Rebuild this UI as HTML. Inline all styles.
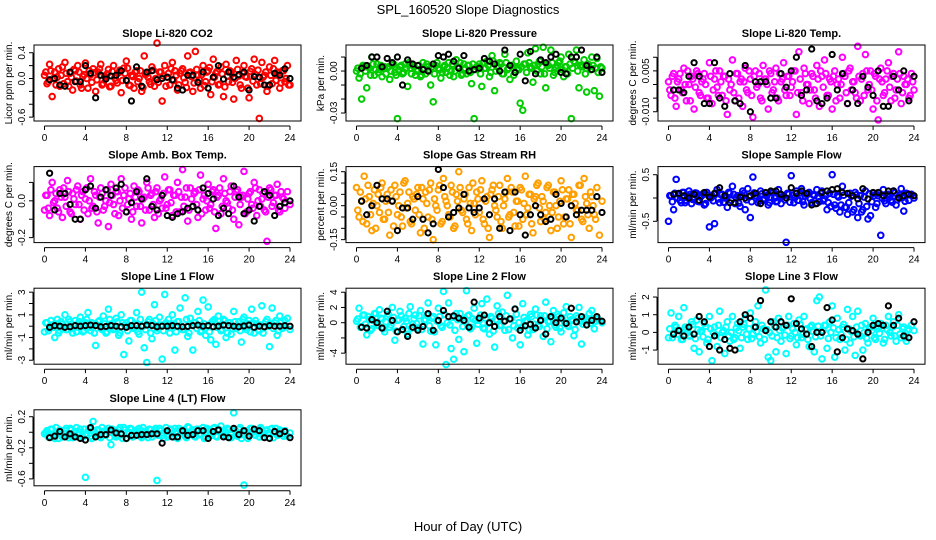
<!DOCTYPE html>
<html><head><meta charset="utf-8">
<style>
html,body{margin:0;padding:0;background:#fff;}
svg{display:block;font-family:"Liberation Sans",sans-serif;}
</style></head>
<body>
<svg id="chart" width="936" height="540" viewBox="0 0 936 540" xmlns="http://www.w3.org/2000/svg">
<text x="468" y="14" text-anchor="middle" font-size="13">SPL_160520  Slope Diagnostics</text>
<text x="468" y="531" text-anchor="middle" font-size="13">Hour of Day (UTC)</text>
</svg>
<script>
const hours = [0,0.25,0.5,0.75,1,1.25,1.5,1.75,2,2.25,2.5,2.75,3,3.25,3.5,3.75,4,4.25,4.5,4.75,5,5.25,5.5,5.75,6,6.25,6.5,6.75,7,7.25,7.5,7.75,8,8.25,8.5,8.75,9,9.25,9.5,9.75,10,10.25,10.5,10.75,11,11.25,11.5,11.75,12,12.25,12.5,12.75,13,13.25,13.5,13.75,14,14.25,14.5,14.75,15,15.25,15.5,15.75,16,16.25,16.5,16.75,17,17.25,17.5,17.75,18,18.25,18.5,18.75,19,19.25,19.5,19.75,20,20.25,20.5,20.75,21,21.25,21.5,21.75,22,22.25,22.5,22.75,23,23.25,23.5,23.75,24];
const hoursB = [0.125,0.375,0.625,0.875,1.125,1.375,1.625,1.875,2.125,2.375,2.625,2.875,3.125,3.375,3.625,3.875,4.125,4.375,4.625,4.875,5.125,5.375,5.625,5.875,6.125,6.375,6.625,6.875,7.125,7.375,7.625,7.875,8.125,8.375,8.625,8.875,9.125,9.375,9.625,9.875,10.125,10.375,10.625,10.875,11.125,11.375,11.625,11.875,12.125,12.375,12.625,12.875,13.125,13.375,13.625,13.875,14.125,14.375,14.625,14.875,15.125,15.375,15.625,15.875,16.125,16.375,16.625,16.875,17.125,17.375,17.625,17.875,18.125,18.375,18.625,18.875,19.125,19.375,19.625,19.875,20.125,20.375,20.625,20.875,21.125,21.375,21.625,21.875,22.125,22.375,22.625,22.875,23.125,23.375,23.625,23.875];
const blackHours = [0.5,1,1.5,2,2.5,3,3.5,4,4.5,5,5.5,6,6.5,7,7.5,8,8.5,9,9.5,10,10.5,11,11.5,12,12.5,13,13.5,14,14.5,15,15.5,16,16.5,17,17.5,18,18.5,19,19.5,20,20.5,21,21.5,22,22.5,23,23.5,24];
const xTicks = [0,4,8,12,16,20,24];

const co2Vals = [0.05,-0.08,0.22,-0.28,0.1,0.02,-0.12,0.18,0.25,-0.05,0.08,-0.18,0.12,0.2,-0.1,0.03,0.24,-0.15,0.06,0.15,-0.2,0.1,0.22,-0.08,0.02,0.14,-0.12,0.2,-0.03,0.09,-0.22,0.16,0.27,-0.1,0.05,-0.15,0.12,0.0,-0.2,0.35,0.08,-0.05,0.18,-0.12,0.55,0.1,-0.35,0.2,0.02,-0.1,0.25,0.12,-0.18,0.08,0.15,-0.06,0.35,0.1,-0.2,0.42,0.05,-0.15,0.2,-0.05,0.12,-0.25,0.3,0.08,-0.1,0.18,-0.28,0.22,-0.05,0.1,-0.32,0.28,0.04,-0.15,0.2,0.02,-0.3,0.15,0.3,-0.1,-0.62,0.25,0.05,-0.2,0.18,-0.08,0.28,0.1,-0.15,0.12,-0.05,0.2,-0.1];
const co2ValsB = [0.1,-0.05,0.12,0.0,-0.1,0.15,0.05,-0.08,0.08,-0.12,0.02,0.14,-0.04,0.1,-0.15,0.06,0.0,0.12,-0.06,0.09,-0.02,0.15,-0.1,0.04,0.07,-0.13,0.11,0.01,-0.07,0.13,-0.03,0.08,0.16,-0.11,0.03,0.1,-0.05,0.12,-0.14,0.06,0.02,-0.09,0.13,0.0,-0.06,0.1,0.04,-0.12,0.08,0.15,-0.03,0.05,-0.1,0.12,0.01,-0.14,0.09,0.03,-0.07,0.14,-0.02,0.06,-0.11,0.1,0.17,-0.05,0.02,0.11,-0.09,0.07,-0.13,0.04,0.12,-0.06,0.0,0.14,-0.1,0.08,0.03,-0.15,0.11,-0.04,0.06,0.13,-0.08,0.02,0.1,-0.12,0.05,0.15,-0.03,0.08,-0.07,0.12,0.0,-0.1];
const co2Black = [-0.02,0.0,-0.1,-0.12,0.1,-0.05,-0.05,0.2,0.08,-0.3,0.05,-0.01,0.04,0.05,0.12,-0.03,-0.35,0.18,-0.12,0.1,0.12,-0.02,0.0,0.02,-0.02,-0.15,-0.18,0.05,0.05,-0.06,0.1,-0.15,0.02,0.2,-0.01,0.1,0.02,0.06,0.1,-0.18,0.03,0.02,-0.1,-0.1,0.08,0.05,0.15,0.0];

const presVals = [0.0,-0.005,-0.02,0.003,-0.012,0.002,0.01,-0.003,0.005,0.001,-0.004,0.003,0.002,-0.006,0.004,-0.001,-0.034,0.003,-0.002,0.005,-0.011,0.002,0.004,-0.003,0.001,-0.004,0.006,-0.002,0.003,-0.01,-0.022,0.004,0.002,-0.005,0.003,-0.001,0.006,0.0,-0.004,0.008,0.002,-0.003,0.005,-0.002,0.004,-0.009,-0.034,0.003,0.005,-0.011,0.002,0.007,-0.004,0.011,-0.014,0.003,0.006,-0.002,0.012,0.001,-0.006,0.004,-0.001,0.002,-0.023,-0.028,0.005,0.013,0.003,-0.008,0.016,0.005,-0.002,0.017,-0.012,0.004,0.015,-0.003,0.002,0.006,0.01,-0.004,0.003,0.012,-0.034,0.007,0.015,-0.012,0.004,0.008,-0.015,0.003,0.01,-0.014,0.009,-0.018,0.002];
const presValsB = [0.002,-0.002,0.004,0.0,0.003,-0.003,0.005,0.001,-0.001,0.004,0.002,-0.002,0.003,0.0,0.005,-0.003,0.001,0.004,-0.001,0.002,0.006,-0.002,0.003,0.0,0.004,-0.003,0.002,0.005,0.0,0.003,-0.002,0.006,0.001,-0.001,0.004,0.002,-0.003,0.005,0.0,0.003,0.006,-0.002,0.002,0.004,-0.001,0.005,0.001,0.003,-0.002,0.006,0.002,0.004,-0.001,0.007,0.0,0.003,0.005,-0.002,0.006,0.002,0.004,-0.003,0.007,0.001,0.003,0.005,-0.001,0.006,0.002,0.004,0.0,0.007,0.003,-0.002,0.005,0.002,0.006,-0.001,0.004,0.007,0.001,0.003,-0.002,0.005,0.002,0.006,0.0,0.004,0.003,-0.002,0.005,0.001,0.004,0.002,-0.001,0.003];
const presBlack = [0.002,0.004,0.01,0.01,0.003,0.009,0.006,0.01,-0.01,0.008,0.005,0.004,0.001,0.0,0.005,0.011,0.01,0.012,0.007,0.002,0.011,0.0,0.001,0.002,0.009,0.007,0.005,0.0,0.015,0.004,-0.001,0.012,-0.007,0.014,-0.002,0.008,0.006,0.01,0.012,-0.001,-0.002,0.01,0.01,0.015,0.004,0.001,0.01,-0.001];

const tempVals = [0.001,-0.004,0.004,-0.008,0.002,-0.002,0.006,-0.006,0.0,0.003,-0.009,0.005,-0.003,0.001,0.004,-0.005,0.008,-0.007,0.002,-0.001,0.005,-0.004,0.003,-0.011,-0.002,0.009,-0.006,0.004,0.001,-0.008,0.006,-0.003,0.002,-0.012,0.005,0.0,-0.005,0.007,0.002,-0.009,0.004,-0.002,0.006,-0.006,0.001,0.008,-0.004,0.003,-0.001,0.005,-0.011,0.012,-0.003,0.006,0.0,-0.007,0.004,-0.002,0.007,-0.008,0.003,0.009,-0.004,0.002,-0.009,0.005,0.0,-0.005,0.010,0.003,-0.007,0.006,0.001,-0.003,0.014,-0.006,0.004,0.011,-0.002,0.005,-0.009,0.003,-0.013,0.006,-0.004,0.002,0.008,-0.006,0.004,-0.002,0.012,-0.007,0.003,0.0,-0.005,0.004,-0.002];
const tempValsB = [-0.002,0.003,-0.005,0.001,0.004,-0.003,0.0,0.005,-0.006,0.002,-0.001,0.004,-0.004,0.002,0.0,-0.005,0.003,-0.002,0.005,-0.004,0.001,0.003,-0.006,0.002,0.0,-0.003,0.004,-0.005,0.002,0.001,-0.002,0.005,-0.004,0.003,-0.001,0.004,-0.006,0.002,0.0,0.005,-0.003,0.001,-0.005,0.004,0.002,-0.002,0.003,-0.004,0.001,0.005,-0.003,0.002,-0.006,0.004,0.0,-0.002,0.003,-0.005,0.002,0.005,-0.001,0.004,-0.004,0.001,0.003,-0.006,0.002,0.0,0.004,-0.003,0.005,-0.002,0.001,-0.005,0.003,0.002,-0.004,0.005,0.0,-0.002,0.004,-0.006,0.002,0.001,-0.003,0.005,-0.001,0.003,-0.005,0.002,0.004,-0.003,0.0,0.002,-0.004,0.001];
const tempBlack = [-0.002,-0.002,-0.003,0.003,0.008,0.003,-0.007,-0.007,0.008,-0.005,-0.008,0.004,-0.006,-0.007,0.007,-0.01,0.001,0.001,0.001,-0.005,-0.005,0.004,-0.001,0.005,0.01,-0.004,-0.002,0.013,-0.006,-0.007,-0.005,0.011,-0.002,0.004,-0.007,-0.002,-0.007,0.003,-0.001,-0.004,0.005,-0.008,-0.008,0.003,-0.002,0.005,-0.006,0.003];

const ambVals = [-0.05,0.03,-0.08,0.1,0.0,-0.04,0.06,-0.09,0.02,0.11,-0.06,0.04,-0.02,0.08,-0.1,0.05,0.01,-0.07,0.12,-0.03,0.03,-0.12,0.07,-0.05,0.0,-0.14,0.09,-0.02,0.05,-0.08,0.12,0.03,-0.06,0.01,-0.1,0.08,-0.03,0.05,-0.12,0.02,0.1,-0.05,0.04,-0.09,0.07,0.0,-0.04,0.13,-0.02,0.06,-0.08,0.03,0.1,-0.06,0.17,0.02,-0.11,0.07,-0.03,0.05,-0.09,0.14,0.01,-0.05,0.09,-0.02,0.06,-0.15,0.03,-0.07,0.12,0.0,-0.04,0.08,-0.1,0.05,-0.13,0.02,0.16,-0.06,0.04,-0.02,0.1,-0.08,0.06,0.01,-0.05,-0.22,0.07,-0.03,0.03,0.09,-0.06,0.02,-0.04,0.05,-0.02];
const ambValsB = [0.03,-0.04,0.06,-0.01,0.04,-0.06,0.02,0.07,-0.03,0.05,-0.07,0.01,0.06,-0.02,0.03,-0.05,0.07,0.0,-0.04,0.05,-0.06,0.02,0.04,-0.03,0.06,-0.01,0.03,-0.07,0.05,0.0,-0.04,0.07,-0.02,0.04,-0.06,0.02,0.06,-0.03,0.01,-0.05,0.07,0.03,-0.02,0.05,-0.07,0.01,0.04,-0.04,0.06,-0.01,0.03,-0.06,0.05,0.02,-0.03,0.07,-0.05,0.01,0.04,-0.02,0.06,-0.07,0.03,0.0,-0.04,0.05,-0.06,0.02,0.07,-0.03,0.04,-0.01,0.05,-0.05,0.02,0.06,-0.02,0.03,-0.07,0.01,0.05,-0.04,0.07,0.0,-0.03,0.04,-0.06,0.02,0.06,-0.01,0.03,-0.05,0.05,0.01];
const ambBlack = [0.15,-0.05,0.04,0.04,-0.02,-0.1,-0.1,0.06,0.08,-0.04,0.02,0.06,0.03,0.07,0.09,-0.06,-0.01,0.05,0.01,0.12,-0.03,-0.05,0.03,-0.08,-0.09,-0.07,-0.06,-0.04,-0.03,-0.05,0.07,0.04,0.01,-0.08,-0.04,-0.07,0.08,0.02,-0.07,-0.05,-0.11,-0.03,0.05,0.03,-0.08,-0.03,-0.01,0.0];

const rhVals = [0.08,-0.05,0.02,0.13,-0.08,0.04,-0.11,0.07,0.0,-0.03,0.1,-0.06,0.05,-0.13,0.02,0.09,-0.04,0.06,-0.09,0.11,0.01,-0.07,0.04,-0.02,0.08,-0.12,0.03,0.06,-0.05,0.1,-0.15,0.0,0.07,-0.08,0.12,0.02,-0.04,0.09,-0.1,0.05,0.15,-0.02,0.03,-0.06,0.08,-0.11,0.01,0.06,-0.03,0.11,-0.08,0.04,-0.14,0.07,0.0,-0.05,0.09,-0.1,0.03,0.12,-0.04,0.06,-0.09,0.02,0.08,-0.06,0.13,-0.01,0.05,-0.12,0.04,0.1,-0.07,0.02,-0.03,0.09,-0.11,0.06,0.0,-0.05,0.11,-0.08,0.03,0.07,-0.14,0.05,-0.02,0.09,-0.06,0.12,0.01,-0.1,0.04,-0.04,0.08,-0.13,0.02];
const rhValsB = [-0.02,0.06,-0.07,0.03,0.09,-0.04,0.01,-0.1,0.05,0.08,-0.06,0.02,-0.03,0.07,-0.09,0.04,0.0,-0.05,0.1,-0.01,0.06,-0.08,0.03,0.05,-0.04,0.08,-0.1,0.01,0.07,-0.06,0.03,-0.02,0.09,-0.07,0.04,0.0,-0.05,0.06,-0.09,0.02,0.08,-0.03,0.05,-0.08,0.01,0.1,-0.04,0.03,0.07,-0.06,0.02,-0.1,0.05,0.09,-0.02,0.04,-0.07,0.0,0.06,-0.05,0.08,-0.03,0.02,-0.09,0.07,0.01,-0.04,0.05,-0.08,0.03,0.09,-0.01,0.04,-0.06,0.08,0.0,-0.03,0.06,-0.1,0.02,0.07,-0.05,0.03,-0.08,0.05,0.01,-0.02,0.09,-0.07,0.04,-0.04,0.06,0.0,-0.06];
const rhBlack = [0.02,-0.04,0.0,0.09,0.03,0.03,0.02,-0.11,-0.01,-0.01,-0.06,0.04,-0.06,-0.12,-0.08,0.16,0.08,-0.05,-0.03,-0.01,0.05,-0.01,-0.03,-0.01,0.03,-0.04,0.03,-0.1,0.06,-0.11,0.06,-0.04,-0.13,-0.04,0.0,-0.04,-0.07,-0.06,0.05,0.01,-0.05,0.0,-0.04,-0.02,-0.02,-0.02,0.04,-0.03];

const sampleVals = [-0.5,0.05,-0.25,0.4,0.08,-0.1,0.12,-0.05,0.15,-0.12,0.02,0.1,-0.08,0.05,-0.15,0.12,-0.62,0.05,-0.55,0.18,-0.1,0.08,0.0,-0.2,0.1,0.25,-0.12,0.05,-0.18,0.15,-0.25,0.2,-0.42,0.45,0.05,-0.1,0.15,-0.05,0.1,-0.15,0.02,0.12,-0.08,0.18,-0.12,0.05,-0.95,0.08,0.48,-0.1,0.15,-0.05,0.2,-0.15,0.08,0.12,-0.1,0.05,0.18,-0.08,0.15,-0.02,-0.25,0.1,0.5,-0.15,0.05,-0.3,0.25,-0.2,-0.35,0.1,-0.3,0.12,-0.42,0.05,-0.25,0.15,-0.45,-0.38,0.1,-0.2,0.05,-0.8,0.18,-0.12,0.08,-0.05,0.15,-0.15,0.02,0.2,-0.28,0.1,-0.05,0.08,0.0];
const sampleValsB = [0.05,-0.08,0.1,0.0,-0.05,0.12,-0.1,0.04,0.08,-0.03,0.11,-0.07,0.02,0.09,-0.12,0.06,0.0,-0.06,0.1,-0.02,0.07,-0.09,0.03,0.12,-0.05,0.08,0.01,-0.11,0.06,0.1,-0.04,0.02,-0.08,0.11,0.04,-0.06,0.09,-0.01,0.05,-0.1,0.12,0.0,-0.07,0.08,0.03,-0.04,0.1,-0.09,0.06,0.01,-0.05,0.11,-0.08,0.04,0.09,-0.02,0.07,-0.12,0.03,0.1,-0.06,0.05,-0.1,-0.18,0.08,-0.22,0.02,-0.15,0.06,-0.2,-0.1,0.04,-0.25,0.07,-0.12,-0.3,0.02,-0.18,0.09,-0.08,0.05,-0.12,0.1,0.0,-0.06,0.08,0.03,-0.09,0.11,-0.04,0.06,0.01,-0.07,0.09];
const sampleBlack = [0.08,0.1,0.05,0.0,0.08,-0.05,0.12,0.02,0.1,0.22,0.05,-0.1,-0.1,0.02,0.0,0.05,0.1,-0.12,0.12,0.15,0.15,0.08,0.0,0.22,0.1,0.15,0.1,-0.15,-0.12,0.12,0.15,0.18,0.2,0.12,0.1,0.05,-0.02,0.2,-0.02,0.12,0.12,0.05,0.15,0.15,0.0,0.05,0.08,0.05];

const line1Vals = [-0.5,0.3,-0.2,0.1,-1.0,0.6,-0.4,0.2,1.0,-0.3,0.4,-0.6,0.5,-0.1,0.8,-0.5,0.3,1.2,-0.4,0.1,-1.7,0.4,-0.2,0.9,-0.6,1.5,0.2,-0.3,0.7,-0.8,1.0,-2.5,0.3,-1.3,0.5,-0.2,1.2,-0.7,3.0,-1.9,-3.2,0.6,-1.1,1.9,-0.4,0.8,-2.9,2.8,0.2,-0.6,1.0,-2.1,0.4,1.6,-0.3,2.5,-0.9,0.7,-2.1,0.3,1.3,-0.5,2.3,-0.8,1.7,-1.2,0.5,-1.6,0.9,-0.4,0.6,-1.0,0.3,-0.7,1.3,-0.2,0.4,-1.4,0.8,-0.3,0.5,1.5,-0.6,0.2,-0.4,1.8,-0.1,0.6,-1.8,1.6,0.3,-0.8,0.9,-0.2,0.5,0.7,-0.3];
const line1ValsB = [0.3,-0.4,0.5,-0.1,0.2,-0.6,0.4,0.0,-0.3,0.6,-0.2,0.1,-0.5,0.4,0.2,-0.4,0.6,-0.1,0.3,-0.6,0.1,0.5,-0.3,0.2,-0.5,0.6,0.0,-0.2,0.4,-0.6,0.3,0.1,-0.4,0.5,-0.1,0.2,-0.5,0.6,0.0,-0.3,0.4,-0.6,0.2,0.5,-0.2,0.1,-0.4,0.3,0.6,-0.1,0.2,-0.5,0.4,0.0,-0.3,0.6,-0.6,0.1,0.3,-0.2,0.5,-0.4,0.2,0.0,-0.5,0.4,0.6,-0.1,0.1,-0.3,0.5,-0.6,0.3,-0.2,0.4,0.0,-0.4,0.6,-0.1,0.2,-0.5,0.3,0.5,-0.3,0.1,-0.6,0.4,0.0,0.2,-0.2,0.5,-0.4,0.3,-0.1];
const line1Black = [-0.1,0.05,0.0,-0.1,-0.05,0.05,0.0,0.05,0.1,0.05,-0.05,-0.02,0.05,0.0,-0.05,-0.1,0.05,0.05,0.0,0.1,0.05,-0.05,0.0,0.0,0.05,0.0,-0.05,-0.02,0.05,0.1,0.0,0.05,-0.05,0.0,0.1,0.05,0.0,-0.05,0.02,0.1,-0.1,0.0,-0.05,0.05,0.0,0.0,0.05,0.0];

const line2Vals = [0.2,1.9,-0.5,1.0,-1.6,0.4,-0.8,1.2,-0.3,1.7,0.5,-1.2,0.8,-0.6,2.0,-2.3,0.3,1.5,-0.9,0.6,-1.5,2.1,-0.2,1.0,-0.7,1.6,-2.8,0.4,2.6,-1.1,0.8,-2.9,1.9,-0.4,4.1,-5.5,2.6,-3.4,-4.8,1.2,-2.2,0.5,-3.8,4.2,1.0,-0.6,1.9,-2.7,0.3,2.5,-0.8,3.1,-1.5,0.6,-3.2,2.2,-0.4,1.4,-1.0,3.6,0.5,-2.0,1.8,-0.7,-2.9,2.5,0.2,-1.6,1.1,-0.9,1.8,-0.3,0.9,-1.8,2.7,0.1,-2.5,1.6,-0.6,0.8,-1.2,1.3,2.1,-0.5,0.4,-1.7,0.9,2.0,-2.8,0.6,-0.3,1.2,1.6,-0.8,0.5,0.3,0.0];
const line2ValsB = [0.5,-0.6,1.0,-0.2,0.8,-1.0,0.3,1.2,-0.4,0.6,-0.8,0.1,1.1,-0.3,0.7,-1.1,0.4,0.9,-0.5,0.2,1.2,-0.7,0.5,-0.1,0.9,-0.9,0.3,1.0,-0.4,0.6,-1.2,0.2,0.8,-0.6,1.1,0.0,-0.3,0.7,-1.0,0.4,1.2,-0.5,0.1,0.9,-0.8,0.5,0.3,-0.2,1.0,-0.7,0.6,-0.1,0.8,-1.1,0.4,1.2,-0.3,0.2,0.9,-0.9,0.5,-0.4,1.1,0.0,-0.6,0.7,0.3,-1.0,0.8,-0.2,1.0,-0.5,0.4,0.9,-0.8,0.2,0.6,-0.3,1.1,-0.7,0.5,0.0,-0.4,0.8,0.3,-0.9,0.6,0.1,-0.2,0.7,0.4,-0.1,0.5,0.2];
const line2Black = [-0.6,-0.7,0.4,0.0,-0.7,1.5,0.3,-1.2,-0.9,-1.8,-0.6,-1.0,-0.5,1.2,-1.0,0.3,1.6,0.8,0.9,0.6,0.3,-0.6,2.7,0.6,1.0,0.0,-0.5,0.8,0.2,0.5,1.8,-1.0,-0.4,-0.2,-0.7,0.3,-1.5,0.8,0.0,0.6,-0.1,1.9,0.1,0.8,-0.3,0.3,0.8,0.2];

const line3Vals = [-0.3,1.1,-0.1,0.3,0.9,-0.4,1.4,0.2,-0.2,0.6,-0.9,0.7,-1.1,0.1,0.5,-0.6,0.9,-1.6,0.3,-0.8,1.2,0.0,-1.2,0.6,-0.5,0.9,-0.3,0.5,-0.9,0.3,0.8,-0.4,1.1,-0.1,0.6,1.5,-0.6,0.2,2.4,-1.4,-1.6,0.6,-1.1,0.8,-0.5,0.3,-1.2,0.9,-0.2,0.5,-0.7,0.7,-0.3,0.9,0.2,-0.8,0.4,-1.1,1.8,2.0,-1.5,0.4,-0.9,0.6,1.5,-1.4,0.8,-0.4,0.3,-1.0,1.3,-0.6,0.9,-1.3,1.2,-0.2,-1.0,0.5,-0.6,0.3,0.8,-0.4,0.2,0.5,-0.6,0.4,0.9,-0.2,0.6,-0.5,1.0,-0.3,0.3,-0.5,0.2,0.4,0.1];
const line3ValsB = [0.2,-0.3,0.4,-0.1,0.1,-0.4,0.3,0.0,-0.2,0.45,-0.35,0.15,0.05,-0.25,0.35,-0.4,0.2,0.0,-0.15,0.4,-0.3,0.1,0.3,-0.2,0.0,-0.4,0.25,0.1,-0.3,0.45,-0.1,0.2,-0.35,0.3,0.05,-0.25,0.4,-0.4,0.15,0.0,-0.2,0.35,-0.3,0.1,0.25,-0.15,0.4,-0.35,0.2,0.0,-0.3,0.45,-0.1,0.15,-0.4,0.3,0.05,-0.25,0.35,-0.2,0.1,0.4,-0.35,0.0,0.25,-0.3,0.15,-0.1,0.45,-0.4,0.2,0.05,-0.25,0.3,-0.15,0.4,0.0,-0.35,0.2,0.1,-0.3,0.35,-0.05,0.25,-0.4,0.15,0.0,0.3,-0.2,0.4,-0.1,0.2,-0.3,0.1];
const line3Black = [-0.1,0.1,-0.2,0.3,-0.1,0.9,0.6,-0.8,-0.2,-1.0,-0.4,-0.9,-1.0,0.6,1.0,0.8,0.3,1.8,0.1,0.6,0.3,0.6,0.4,1.9,0.5,0.2,-0.1,-0.8,0.0,0.0,1.4,0.7,-1.1,-0.3,0.2,0.1,-0.1,-1.5,0.0,0.4,0.5,0.4,1.5,0.4,0.8,-0.2,-0.3,0.6];

const line4Vals = [-0.02,0.02,-0.05,0.04,-0.08,0.0,0.03,-0.06,0.02,-0.04,0.05,-0.07,0.01,-0.03,0.04,-0.06,-0.58,0.02,-0.05,0.14,-0.02,0.03,-0.07,0.01,-0.04,0.05,-0.16,0.02,-0.06,0.03,-0.03,0.06,-0.08,0.0,0.04,-0.05,0.02,0.05,-0.07,0.01,-0.03,0.04,-0.06,0.02,-0.62,0.05,-0.04,0.01,-0.06,0.03,-0.02,0.05,-0.08,0.02,0.0,-0.05,0.07,-0.03,0.03,-0.06,0.04,-0.02,0.06,-0.07,0.03,-0.01,0.05,-0.05,0.02,0.08,-0.04,0.0,0.03,-0.07,0.25,-0.02,0.04,-0.08,-0.68,0.02,-0.05,0.05,-0.03,0.01,-0.06,0.04,-0.02,0.03,-0.07,0.05,0.0,-0.04,0.03,-0.02,0.02,-0.05,-0.01];
const line4ValsB = [0.0,-0.06,0.04,-0.03,0.06,-0.08,0.02,-0.01,0.05,-0.07,0.03,-0.04,0.06,0.0,-0.06,0.04,-0.02,0.05,-0.08,0.01,0.03,-0.05,0.06,-0.03,0.02,-0.07,0.04,0.0,-0.04,0.06,-0.08,0.03,-0.02,0.05,-0.06,0.01,0.04,-0.05,0.06,-0.01,-0.07,0.03,0.0,0.05,-0.04,0.02,-0.08,0.06,-0.03,0.04,-0.06,0.01,0.05,-0.02,0.03,-0.07,0.06,0.0,-0.05,0.04,-0.03,0.02,-0.08,0.05,0.01,-0.04,0.06,-0.06,0.03,0.0,-0.02,0.05,-0.07,0.04,0.02,-0.05,0.06,-0.03,0.01,-0.08,0.05,0.0,-0.04,0.03,0.06,-0.06,0.02,-0.01,0.04,-0.07,0.05,-0.03,0.01,-0.05];
const line4Black = [-0.07,-0.05,0.01,-0.06,-0.02,-0.06,-0.08,-0.1,0.06,-0.06,-0.03,-0.03,0.03,-0.01,-0.02,-0.08,-0.04,-0.04,-0.03,-0.03,-0.02,-0.02,-0.14,0.02,-0.06,-0.06,0.02,-0.04,-0.03,0.02,0.02,-0.08,0.01,0.03,-0.06,-0.07,0.05,-0.03,0.02,-0.05,0.04,0.02,-0.07,-0.08,0.01,-0.02,0.01,-0.07];

const panels = [
 {name:'co2',title:'Slope Li-820 CO2',ylab:'Licor ppm per min.',color:'#ff0000',col:0,row:0,ylim:[-0.66,0.52],ticks:[0.4,0.2,0,-0.2,-0.4,-0.6],labels:['0.4','','0.0','','','-0.6'],vals:co2Vals,valsB:co2ValsB,black:co2Black},
 {name:'pressure',title:'Slope Li-820 Pressure',ylab:'kPa per min.',color:'#00cc00',col:1,row:0,ylim:[-0.0357,0.0186],ticks:[0.01,0,-0.01,-0.02,-0.03],labels:['','0.00','','','-0.03'],vals:presVals,valsB:presValsB,black:presBlack},
 {name:'temp',title:'Slope Li-820 Temp.',ylab:'degrees C per min.',color:'#ff00ff',col:2,row:0,ylim:[-0.0134,0.0145],ticks:[0.01,0.005,0,-0.005,-0.01],labels:['','0.005','','','-0.010'],vals:tempVals,valsB:tempValsB,black:tempBlack},
 {name:'amb-box-temp',title:'Slope Amb. Box Temp.',ylab:'degrees C per min.',color:'#ff00ff',col:0,row:1,ylim:[-0.227,0.186],ticks:[0.1,0,-0.1,-0.2],labels:['','0.0','','-0.2'],vals:ambVals,valsB:ambValsB,black:ambBlack},
 {name:'rh',title:'Slope Gas Stream RH',ylab:'percent per min.',color:'#ff9f00',col:1,row:1,ylim:[-0.163,0.1725],ticks:[0.15,0.1,0.05,0,-0.05,-0.1,-0.15],labels:['0.15','','','0.00','','','-0.15'],vals:rhVals,valsB:rhValsB,black:rhBlack},
 {name:'sample-flow',title:'Slope Sample Flow',ylab:'ml/min per min.',color:'#0000ff',col:2,row:1,ylim:[-0.957,0.674],ticks:[0.5,0,-0.5],labels:['0.5','','-0.5'],vals:sampleVals,valsB:sampleValsB,black:sampleBlack},
 {name:'line1-flow',title:'Slope Line 1 Flow',ylab:'ml/min per min.',color:'#00ffff',col:0,row:2,ylim:[-3.35,3.35],ticks:[3,2,1,0,-1,-2,-3],labels:['3','','1','','-1','','-3'],vals:line1Vals,valsB:line1ValsB,black:line1Black},
 {name:'line2-flow',title:'Slope Line 2 Flow',ylab:'ml/min per min.',color:'#00ffff',col:1,row:2,ylim:[-5.45,4.53],ticks:[4,2,0,-2,-4],labels:['4','2','0','','-4'],vals:line2Vals,valsB:line2ValsB,black:line2Black},
 {name:'line3-flow',title:'Slope Line 3 Flow',ylab:'ml/min per min.',color:'#00ffff',col:2,row:2,ylim:[-1.8,2.5],ticks:[2,1,0,-1],labels:['2','1','0','-1'],vals:line3Vals,valsB:line3ValsB,black:line3Black},
 {name:'line4-flow',title:'Slope Line 4 (LT) Flow',ylab:'ml/min per min.',color:'#00ffff',col:0,row:3,ylim:[-0.689,0.289],ticks:[0.2,0,-0.2,-0.4,-0.6],labels:['0.2','','-0.2','','-0.6'],vals:line4Vals,valsB:line4ValsB,black:line4Black}
];

const NS='http://www.w3.org/2000/svg';
const svg=document.getElementById('chart');
function mk(tag,attrs,parent){const e=document.createElementNS(NS,tag);for(const k in attrs)e.setAttribute(k,attrs[k]);parent.appendChild(e);return e;}

panels.forEach(p=>{
  const ox=p.col*312, bx0=ox+34, bx1=ox+301;
  const by0=45+p.row*121.6, by1=by0+76;
  const xs=h=>ox+44.5+(h/24)*(290-44.5);
  const ys=v=>by1-(v-p.ylim[0])/(p.ylim[1]-p.ylim[0])*(by1-by0);
  const g=mk('g',{},svg);
  
  
  const t=mk('text',{x:(bx0+bx1)/2,y:by0-8,'text-anchor':'middle','font-size':'11','font-weight':'bold'},g);
  t.textContent=p.title;
  
  
  const yl=mk('text',{x:0,y:0,'text-anchor':'middle','font-size':'10',transform:`translate(${ox+12},${(by0+by1)/2}) rotate(-90)`},g);
  yl.textContent=p.ylab;
  
  
  const pg=mk('g',{fill:'none'},g);
  
  
  const n=Math.min(hours.length,p.vals.length);
  for(let i=0;i<n;i++){
    const c=mk('circle',{cx:xs(hours[i]),cy:ys(p.vals[i]),r:2.8,stroke:p.color,'stroke-width':2},pg);
    
    
  }
  const n2=Math.min(hoursB.length,p.valsB.length);
  for(let i=0;i<n2;i++){
    const c=mk('circle',{cx:xs(hoursB[i]),cy:ys(p.valsB[i]),r:2.8,stroke:p.color,'stroke-width':2},pg);
    
    
  }
  const bg=mk('g',{fill:'none'},g);
  
  
  const m=Math.min(blackHours.length,p.black.length);
  for(let i=0;i<m;i++){
    const c=mk('circle',{cx:xs(blackHours[i]),cy:ys(p.black[i]),r:2.6,stroke:'#000','stroke-width':2},bg);
    
    
  }
  const box=mk('rect',{x:bx0,y:by0,width:bx1-bx0,height:by1-by0,fill:'none',stroke:'#000','stroke-width':1},g);
  
  
  mk('line',{x1:xs(0),x2:xs(24),y1:by1+5,y2:by1+5,stroke:'#000'},g);
  xTicks.forEach(h=>{
    mk('line',{x1:xs(h),x2:xs(h),y1:by1+5,y2:by1+9,stroke:'#000'},g);
    const tl=mk('text',{x:xs(h),y:by1+20,'text-anchor':'middle','font-size':'10'},g);
    tl.textContent=h;
    
    
  });
  const yt0=ys(p.ticks[0]), yt1=ys(p.ticks[p.ticks.length-1]);
  mk('line',{x1:bx0-1,x2:bx0-1,y1:yt0,y2:yt1,stroke:'#000'},g);
  p.ticks.forEach((v,i)=>{
    mk('line',{x1:bx0-5,x2:bx0-1,y1:ys(v),y2:ys(v),stroke:'#000'},g);
    if(p.labels[i]){
      const tl=mk('text',{x:0,y:0,'text-anchor':'middle','font-size':'10',transform:`translate(${bx0-9},${ys(v)}) rotate(-90)`},g);
      tl.textContent=p.labels[i];
      
      
    }
  });
});
</script>
</body></html>
